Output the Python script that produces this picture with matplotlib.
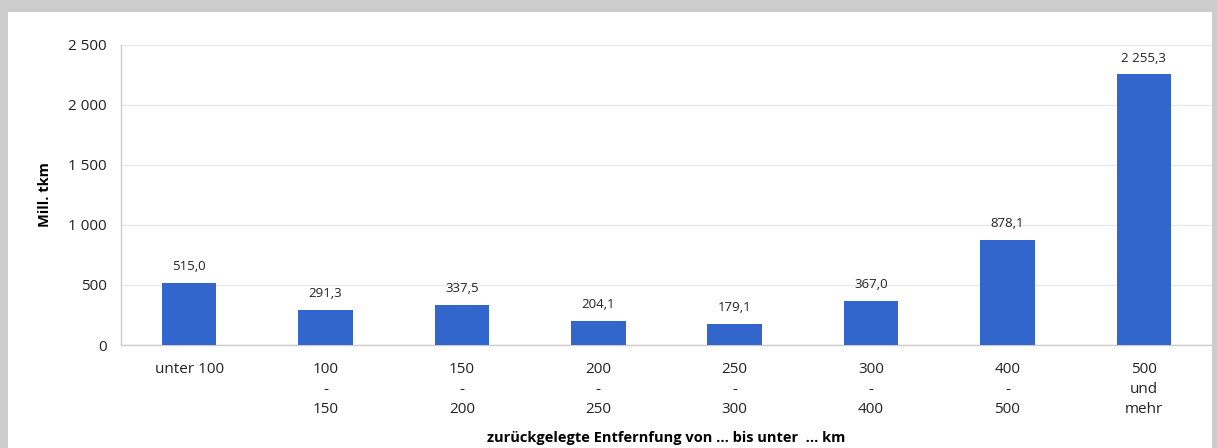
import matplotlib
matplotlib.use("Agg")
import matplotlib.pyplot as plt
from matplotlib.patches import Rectangle

categories = ["unter 100", "100\n-\n150", "150\n-\n200", "200\n-\n250",
              "250\n-\n300", "300\n-\n400", "400\n-\n500", "500\nund\nmehr"]
values = [515.0, 291.3, 337.5, 204.1, 179.1, 367.0, 878.1, 2255.3]
yticks = [0, 500, 1000, 1500, 2000, 2500]

plt.rcParams['font.family'] = ['Open Sans', 'DejaVu Sans']

W, H = 1217, 448
fig = plt.figure(figsize=(W/100, H/100), dpi=100)
fig.patch.set_facecolor('#cccccc')
fig.patches.append(Rectangle((8/W, 0), (1212-8)/W, (H-12)/H, transform=fig.transFigure,
                             facecolor='white', edgecolor='none', zorder=-10))

ax = fig.add_axes([121/W, 103/H, (1212-121)/W, 300/H])
ax.set_zorder(1)
ax.set_facecolor('none')
x = range(len(categories))
ax.bar(x, values, width=0.4, color='#3366cc', zorder=3)
ax.set_xlim(-0.5, len(categories)-0.5)
ax.set_ylim(0, 2500)
ax.set_yticks(yticks)
ax.set_yticklabels([f"{v:,}".replace(",", " ") for v in yticks], fontsize=11)
ax.set_xticks(list(x))
ax.set_xticklabels(categories, fontsize=11, linespacing=1.45, va='top')
ax.tick_params(axis='x', length=0, pad=12, colors='#222222')
ax.tick_params(axis='y', length=0, pad=10, colors='#222222')
ax.grid(axis='y', color='#e8e8e8', linewidth=1, zorder=0)
for s in ['top', 'right']:
    ax.spines[s].set_visible(False)
for s in ['left', 'bottom']:
    ax.spines[s].set_color('#cccccc')
    ax.spines[s].set_linewidth(1)

for xi, v in zip(x, values):
    lbl = f"{v:,.1f}".replace(",", " ").replace(".", ",")
    ax.annotate(lbl, (xi, v), xytext=(0, 7), textcoords='offset points',
                ha='center', va='bottom', fontsize=9.5, color='#222222')

fig.text(45/W, (H-195)/H, "Mill. tkm", rotation=90, ha='center', va='center',
         fontsize=10.5, fontweight='bold')
fig.text(666/W, 10/H, "zurückgelegte Entfernfung von ... bis unter  ... km",
         ha='center', va='center', fontsize=10.5, fontweight='bold')

fig.savefig("out.png", dpi=100, facecolor=fig.get_facecolor())
